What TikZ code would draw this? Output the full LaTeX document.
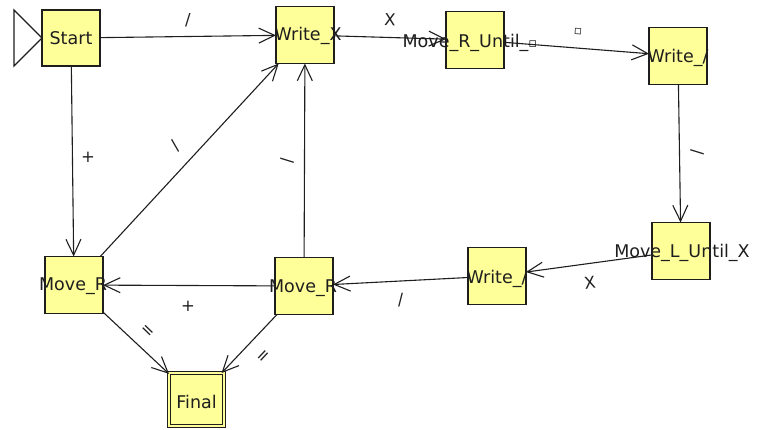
\documentclass[tikz,border=0pt]{standalone}
\usepackage{fontspec}
\setmainfont{DejaVu Sans}
\usetikzlibrary{arrows.meta}
\definecolor{stfill}{RGB}{255,255,153}
\definecolor{ink}{RGB}{30,30,30}
\newcommand{\blanksym}{\scalebox{0.75}{▫}}
\begin{document}
\begin{tikzpicture}[x=1pt,y=-1pt,
  st/.style={draw=ink, fill=stfill, line width=1.3pt, minimum width=58pt,
    minimum height=57pt, inner sep=0pt, outer sep=0pt},
  stname/.style={font=\fontsize{17.5}{17.5}\selectfont, text=ink, inner sep=0pt},
  fin/.style={st, double=stfill, double distance=2.6pt, line width=1pt,
    minimum width=55pt, minimum height=53pt},
  tr/.style={draw=ink, line width=1.1pt,
    -{Straight Barb[length=16pt,width=15pt,line width=1.1pt]}},
  lab/.style={font=\fontsize{16.5}{16.5}\selectfont, text=ink, inner sep=0pt}]
\useasboundingbox (0,0) rectangle (757,429);

% states
\node[st, minimum height=56pt, label={[stname]center:Start}] (s) at (71,38) {};
\node[st, label={[stname, xshift=3pt, yshift=-1pt]center:Write\_X}] (wx) at (305,35) {};
\node[st, label={[stname, xshift=-5pt, yshift=-3pt]center:Move\_R\_Until\_\blanksym}] (mru) at (475,40) {};
\node[st, label={[stname, yshift=-2pt]center:Write\_/}] (wt) at (678,56) {};
\node[st, label={[stname, xshift=1pt, yshift=-2pt]center:Move\_L\_Until\_X}] (ml) at (681,251) {};
\node[st, label={[stname, yshift=-3pt]center:Write\_/}] (wm) at (497,276) {};
\node[st, label={[stname, xshift=-1pt, yshift=-2pt]center:Move\_R}] (mrr) at (304,286) {};
\node[st, label={[stname, xshift=-1pt, yshift=-1pt]center:Move\_R}] (mrl) at (74,285) {};
\node[fin, label={[stname, yshift=-2pt]center:Final}] (f) at (196.5,399.5) {};

% initial-state marker
\draw[draw=ink, fill=white, line width=1.1pt] (s.west) -- ++(-28,-28) -- ++(0,56) -- cycle;

% transitions
\draw[tr] (s) -- node[lab, midway, shift={(0,-16.5)}] {/} (wx);
\draw[tr] (wx) -- node[lab, midway, shift={(0,-17.5)}, rotate=-2] {X} (mru);
\draw[tr] (mru) -- node[lab, midway, shift={(1.5,-16)}, rotate=-4] {\blanksym} (wt);
\draw[tr] (wt) -- node[lab, midway, shift={(17.5,-1.5)}, rotate=-90] {/} (ml);
\draw[tr] (ml) -- node[lab, midway, shift={(1,19.5)}, rotate=8] {X} (wm);
\draw[tr] (wm) -- node[lab, midway, shift={(0,19)}, rotate=3] {/} (mrr);
\draw[tr] (mrr) -- node[lab, midway, shift={(-1,20.5)}] {+} (mrl);
\draw[tr] (mrr) -- node[lab, midway, shift={(-17.5,0)}, rotate=90] {/} (wx);
\draw[tr] (mrl) -- node[lab, midway, shift={(-13.5,-14)}, rotate=47] {/} (wx);
\draw[tr] (s) -- node[lab, midway, shift={(15.5,-3.5)}] {+} (mrl);
\draw[tr] (mrl) -- node[lab, midway, shift={(11,-11)}, rotate=-44] {=} (f);
\draw[tr] (mrr) -- node[lab, midway, shift={(15,13.5)}, rotate=47] {=} (f);
\end{tikzpicture}
\end{document}
